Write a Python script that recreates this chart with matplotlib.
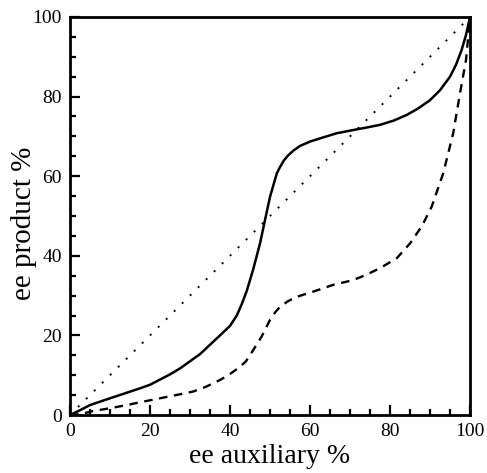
import numpy as np
import matplotlib.pyplot as plt

plt.rcParams['font.family'] = ['Liberation Serif', 'DejaVu Serif']

# values
aux_solid = [0, 2.5, 5, 10, 17.5, 20, 25, 27.5, 32.5, 37.5, 40, 41.7, 43, 44.2, 45.8, 47.5, 48.75, 50,
             51.7, 52.5, 53.5, 54.5, 55.8, 57.5, 60, 62.5, 66.7, 70.8, 74, 77.5, 81, 84.2, 87, 90,
             92.5, 95, 96.5, 97.9, 99, 100]
prod_solid = [0, 1.2, 2.5, 4.2, 6.7, 7.6, 10.2, 11.7, 15.3, 20, 22.4, 25.0, 28.0, 31.2, 36.6, 43.1, 49,
              54.8, 60.7, 62.3, 64.0, 65.2, 66.4, 67.6, 68.7, 69.5, 70.8, 71.6, 72.2, 72.9, 74.0, 75.4,
              77.0, 79.1, 81.6, 85.0, 88.0, 91.7, 95.5, 100]

aux_dash = [0, 3, 5.8, 10, 14.2, 18, 22.5, 26.5, 30.8, 34, 37.5, 40, 42.5, 44, 45.8, 47.9, 50, 51.3,
            52.5, 54.5, 56.7, 60.8, 65.8, 70.8, 74, 77.5, 81.7, 85, 88, 90.4, 93.3, 95.8, 97.5, 99,
            99.6, 100]
prod_dash = [0, 0.3, 1.0, 1.7, 2.5, 3.3, 4.2, 5.0, 5.9, 7.1, 8.8, 10.3, 12.1, 13.5, 16.3, 19.7, 23.9,
             25.8, 27.2, 28.6, 29.7, 31.0, 32.7, 33.9, 35.2, 36.9, 39.4, 43.1, 47.5, 52.3, 60.7, 70.8,
             80.8, 89.2, 95.6, 100]

diag = [0, 100]

fig = plt.figure(figsize=(4.87, 4.73), dpi=100)
ax = fig.add_axes([70 / 487, 58 / 473, 400 / 487, 398 / 473])

ax.plot(aux_solid, prod_solid, color='black', lw=1.8, solid_joinstyle='round')
ax.plot(aux_dash, prod_dash, color='black', lw=1.7, linestyle=(0, (3.6, 2.8)))
ax.plot(diag, diag, color='black', lw=1.4, linestyle=(0, (1, 4.8)))

ax.set_xlim(0, 100)
ax.set_ylim(0, 100)
ax.set_xticks(np.arange(0, 101, 20))
ax.set_yticks(np.arange(0, 101, 20))
ax.set_xticks(np.arange(0, 101, 5), minor=True)
ax.set_yticks(np.arange(0, 101, 5), minor=True)
ax.tick_params(which='both', direction='in', top=False, right=False, labelsize=14, width=1.6)
ax.tick_params(which='major', length=7, pad=6)
ax.tick_params(which='minor', length=4)
for s in ax.spines.values():
    s.set_linewidth(2)

ax.set_xlabel('ee auxiliary %', fontsize=20)
ax.set_ylabel('ee product %', fontsize=21)
ax.xaxis.set_label_coords(0.5, -0.074)
ax.yaxis.set_label_coords(-0.082, 0.482)

fig.savefig('out.png', dpi=100)
